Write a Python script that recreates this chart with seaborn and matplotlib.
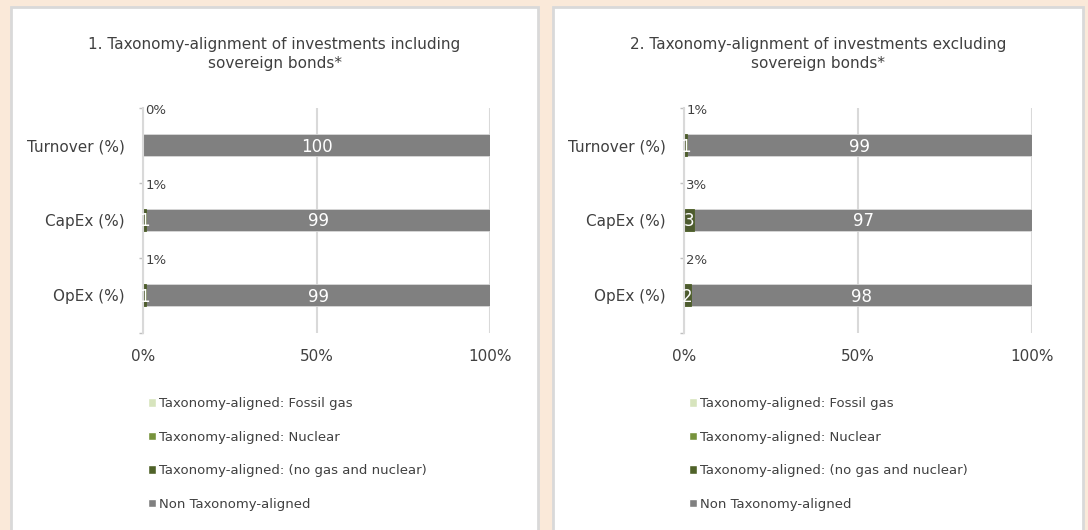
import matplotlib
matplotlib.use('Agg')
import matplotlib.pyplot as plt
from matplotlib.patches import Rectangle, Patch
import seaborn as sns
import pandas as pd

metrics = ['Turnover (%)', 'CapEx (%)', 'OpEx (%)']
series_names = ['Taxonomy-aligned: Fossil gas', 'Taxonomy-aligned: Nuclear',
                'Taxonomy-aligned: (no gas and nuclear)', 'Non Taxonomy-aligned']
colors = ['#d7e4bd', '#77933c', '#4f6228', '#808080']

# chart 1: including sovereign bonds
incl_fossil = [0, 0, 0]
incl_nuclear = [0, 0, 0]
incl_other = [0, 1, 1]
incl_non = [100, 99, 99]
incl_total_labels = ['0%', '1%', '1%']

# chart 2: excluding sovereign bonds
excl_fossil = [0, 0, 0]
excl_nuclear = [0, 0, 0]
excl_other = [1, 3, 2]
excl_non = [99, 97, 98]
excl_total_labels = ['1%', '3%', '2%']

titles = ['1. Taxonomy-alignment of investments including\nsovereign bonds*',
          '2. Taxonomy-alignment of investments excluding\nsovereign bonds*']

sns.set_style('white')
plt.rcParams['font.family'] = ['DejaVu Sans']
txt = '#404040'
grid_c = '#d9d9d9'

W, H = 1088, 530
fig = plt.figure(figsize=(W / 100, H / 100), dpi=100, facecolor='#fae9d9')

panels = [(11, 538), (553, 1083)]
axes_px = [(143, 490), (684, 1032)]
top_px, bot_px = 107.5, 332.5


def draw_panel(k, fossil, nuclear, other, non, total_labels):
    x0, x1 = panels[k]
    fig.patches.append(Rectangle((x0 / W, -0.05), (x1 - x0) / W, 1 - 7 / H + 0.05,
                                 transform=fig.transFigure, facecolor='white',
                                 edgecolor=grid_c, linewidth=2, zorder=-5))
    a0, a1 = axes_px[k]
    ax = fig.add_axes([a0 / W, (H - bot_px) / H, (a1 - a0) / W, (bot_px - top_px) / H])
    ax.set_facecolor('none')

    df = pd.DataFrame({'metric': metrics, 'fossil': fossil, 'nuclear': nuclear,
                       'other': other, 'non': non})
    df['c1'] = df['fossil']
    df['c2'] = df['c1'] + df['nuclear']
    df['c3'] = df['c2'] + df['other']
    df['c4'] = df['c3'] + df['non']

    # stacked bars drawn as overlapping cumulative bars
    for col, c in zip(['c4', 'c3', 'c2', 'c1'], colors[::-1]):
        sns.barplot(data=df, x=col, y='metric', color=c, width=0.3, orient='h',
                    edgecolor=grid_c if col == 'c4' else c, linewidth=0.6, ax=ax)

    for i in range(len(metrics)):
        starts = [0, df['c1'][i], df['c2'][i], df['c3'][i]]
        vals = [fossil[i], nuclear[i], other[i], non[i]]
        for s, v in zip(starts, vals):
            if v > 0:
                ax.text(s + v / 2, i + 0.02, f'{v}', ha='center', va='center',
                        color='white', fontsize=12)
        ax.text(0.6, i - 0.46, total_labels[i], ha='left', va='center',
                color=txt, fontsize=9.5)

    ax.set_xlim(0, 100)
    ax.set_ylim(2.5, -0.5)
    ax.set_xticks([0, 50, 100])
    ax.set_xticklabels(['0%', '50%', '100%'])
    ax.set_yticks([-0.5, 0.5, 1.5, 2.5], minor=True)
    ax.tick_params(axis='y', which='minor', length=3, color='#bfbfbf', width=1, left=True)
    ax.tick_params(axis='y', which='major', length=0, pad=13, labelsize=11, labelcolor=txt)
    ax.tick_params(axis='x', length=0, pad=12, labelsize=11, labelcolor=txt)
    ax.xaxis.grid(True, color=grid_c, linewidth=1.5)
    ax.set_axisbelow(True)
    for s in ['top', 'right', 'bottom']:
        ax.spines[s].set_visible(False)
    ax.spines['left'].set_color(grid_c)
    ax.spines['left'].set_linewidth(1.5)
    ax.set(xlabel='', ylabel='')

    fig.text((x0 + x1) / 2 / W, 1 - 54 / H, titles[k], ha='center', va='center',
             fontsize=11, color=txt, linespacing=1.3)

    handles = [Patch(facecolor=c) for c in colors]
    fig.legend(handles, series_names, loc='upper left',
               bbox_to_anchor=((a0 + 5) / W, 1 - 397 / H), frameon=False,
               fontsize=9.5, labelcolor=txt, handlelength=0.6, handleheight=0.6,
               handletextpad=0.25, labelspacing=1.56, borderpad=0, borderaxespad=0)


draw_panel(0, incl_fossil, incl_nuclear, incl_other, incl_non, incl_total_labels)
draw_panel(1, excl_fossil, excl_nuclear, excl_other, excl_non, excl_total_labels)

plt.savefig('out.png', dpi=100, facecolor=fig.get_facecolor())
